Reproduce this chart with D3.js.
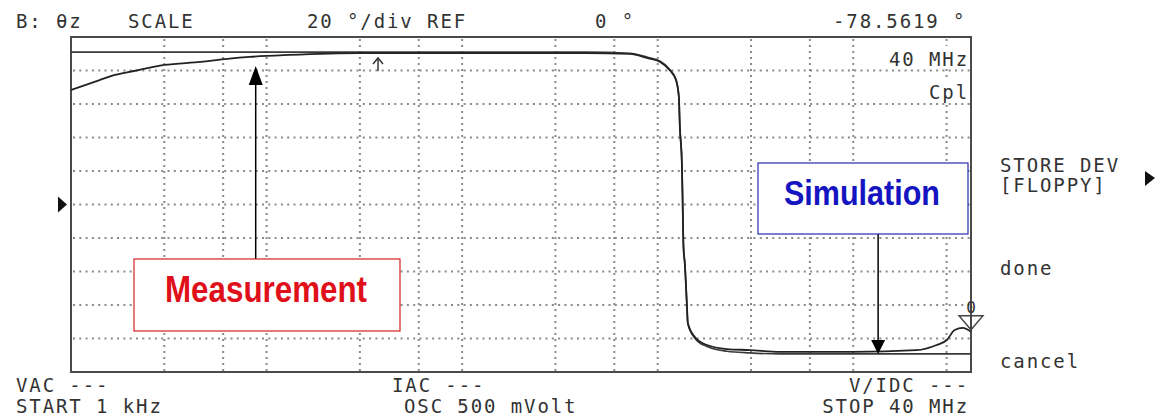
<!DOCTYPE html>
<html><head><meta charset="utf-8">
<script src="https://cdn.jsdelivr.net/npm/d3@7"></script>
<style>
html,body{margin:0;padding:0;background:#fff;}
svg{display:block;}
.lcd{font-family:"DejaVu Sans Mono",monospace;font-size:19px;fill:#333;letter-spacing:1.9px;}
</style></head>
<body>
<svg id="chart" width="1160" height="418"></svg>
<script>
// ---- data ----
const gridFreqs = [3e3, 6e3, 1e4, 3e4, 6e4, 1e5, 3e5, 6e5, 1e6, 3e6, 6e6, 1e7, 3e7];
const gridDegs = [-80, -60, -40, -20, 0, 20, 40, 60, 80];

const measFreq = [1e3, 1.4e3, 1.6e3, 2.1e3, 3e3, 4.6e3, 6.3e3, 8.2e3, 13e3, 30e3, 100e3, 430e3, 720e3, 880e3,
  1.03e6, 1.15e6, 1.24e6, 1.283e6, 1.298e6, 1.329e6, 1.34e6, 1.355e6, 1.376e6, 1.409e6, 1.426e6, 1.549e6,
  1.785e6, 2.26e6, 2.96e6, 4.2e6, 10e6, 21e6, 26.7e6, 30.1e6, 33e6, 36.3e6, 40e6];
const measPhase = [68.4, 74.3, 76.7, 79.7, 83.3, 85.1, 86.9, 88.1, 89.3, 90.4, 90.4, 90.4, 89.9, 87.5,
  85.1, 80.3, 74.3, 64.2, 46.3, 24.8, 4.5, -25.4, -34.9, -58.8, -70.7, -79.1,
  -83.9, -86.3, -86.9, -88.0, -88.0, -87.0, -83.9, -80.9, -74.9, -73.7, -76.0];

const simFreq = [1e3, 430e3, 720e3, 880e3, 1.03e6, 1.15e6, 1.24e6, 1.283e6, 1.298e6, 1.329e6, 1.34e6,
  1.355e6, 1.376e6, 1.409e6, 1.426e6, 1.549e6, 1.785e6, 2.26e6, 2.96e6, 4.2e6, 10e6, 40e6];
const simPhase = [91.0, 91.0, 90.3, 88.0, 85.5, 80.8, 74.8, 64.5, 46.5, 25.0, 4.5,
  -25.6, -35.2, -59.2, -71.2, -79.8, -84.8, -87.6, -88.6, -89.2, -89.2, -89.2];

const headerTexts = ["B: θz", "SCALE", "20 °/div REF", "0 °", "-78.5619 °"];
const footerLeft = ["VAC ---", "START 1 kHz"];
const footerMid = ["IAC ---", "OSC 500 mVolt"];
const footerRight = ["V/IDC ---", "STOP 40 MHz"];
const menuTexts = ["STORE DEV", "[FLOPPY]", "done", "cancel"];
const markerFreqLabel = "40 MHz";
const paramLabel = "Cpl";
const annMeas = {label: "Measurement", freq: 8.8e3};
const annSim = {label: "Simulation", freq: 13.4e6};

// ---- layout ----
const svg = d3.select("#chart");
const L = 71, R = 971, T = 37, B = 372;
const x = d3.scaleLog().domain([1e3, 40e6]).range([L, R]);
const y = d3.scaleLinear().domain([-100, 100]).range([B, T]);

// grid
const g = svg.append("g");
g.selectAll(".vg").data(gridFreqs).join("line")
  .attr("x1", d => x(d)).attr("x2", d => x(d)).attr("y1", T + 2).attr("y2", B)
  .attr("stroke", "#8a8a8a").attr("stroke-width", 2).attr("stroke-dasharray", "2,4");
g.selectAll(".hg").data(gridDegs).join("line")
  .attr("x1", L + 2).attr("x2", R).attr("y1", d => y(d)).attr("y2", d => y(d))
  .attr("stroke", "#8a8a8a").attr("stroke-width", 2).attr("stroke-dasharray", "2,4.3");

// label backgrounds inside plot
const lab = svg.append("g");
lab.append("rect").attr("x", 884).attr("y", 46).attr("width", 86).attr("height", 22).attr("fill", "#fff");
lab.append("rect").attr("x", 926).attr("y", 80).attr("width", 44).attr("height", 22).attr("fill", "#fff");
lab.append("text").attr("class", "lcd").attr("x", 969).attr("y", 66).attr("text-anchor", "end").text(markerFreqLabel);
lab.append("text").attr("class", "lcd").attr("x", 969).attr("y", 99).attr("text-anchor", "end").text(paramLabel);

// frame
svg.append("rect").attr("x", L).attr("y", T).attr("width", R - L).attr("height", B - T)
  .attr("fill", "none").attr("stroke", "#4a4a4a").attr("stroke-width", 2);

// curves
const line = d3.line().x(d => x(d[0])).y(d => y(d[1])).curve(d3.curveMonotoneX);
svg.append("path").datum(simFreq.map((f, i) => [f, simPhase[i]]))
  .attr("d", line).attr("fill", "none").attr("stroke", "#3a3a3a").attr("stroke-width", 1.6);
svg.append("path").datum(measFreq.map((f, i) => [f, measPhase[i]]))
  .attr("d", line).attr("fill", "none").attr("stroke", "#222").attr("stroke-width", 1.8);

// small up arrow marker near top
const ax = 378;
svg.append("line").attr("x1", ax).attr("x2", ax).attr("y1", 71).attr("y2", 59).attr("stroke", "#333").attr("stroke-width", 1.5);
svg.append("path").attr("d", `M${ax - 5},${64} L${ax},${58} L${ax + 5},${64}`).attr("fill", "none").attr("stroke", "#333").attr("stroke-width", 1.5);

// reference marker at left (0 deg)
svg.append("path").attr("d", `M58,${y(0) - 8} L67,${y(0)} L58,${y(0) + 8} Z`).attr("fill", "#111");

// marker at end of sweep
const mx = x(40e6), my = y(measPhase[measPhase.length - 1]);
svg.append("path").attr("d", `M${mx - 12},${my - 16} L${mx + 12},${my - 16} L${mx},${my - 2} Z`)
  .attr("fill", "none").attr("stroke", "#444").attr("stroke-width", 1.4);
svg.append("line").attr("x1", mx).attr("x2", mx).attr("y1", my - 16).attr("y2", my)
  .attr("stroke", "#444").attr("stroke-width", 1.4);
svg.append("text").attr("class", "lcd").attr("x", mx).attr("y", my - 19).attr("text-anchor", "middle")
  .style("font-size", "16px").style("letter-spacing", "0px").text("0");

// header
const hx = [16, 128, 307, 595, 833];
svg.selectAll(".hdr").data(headerTexts).join("text").attr("class", "lcd")
  .attr("x", (d, i) => hx[i]).attr("y", 28).text(d => d);

// footer
svg.selectAll(".fl").data(footerLeft).join("text").attr("class", "lcd")
  .attr("x", 16).attr("y", (d, i) => i === 0 ? 392 : 413).text(d => d);
svg.selectAll(".fm").data(footerMid).join("text").attr("class", "lcd")
  .attr("x", (d, i) => i === 0 ? 392 : 404).attr("y", (d, i) => i === 0 ? 392 : 413).text(d => d);
svg.selectAll(".fr").data(footerRight).join("text").attr("class", "lcd")
  .attr("x", 969).attr("text-anchor", "end").attr("y", (d, i) => i === 0 ? 392 : 413).text(d => d);

// right menu
const my0 = [172, 192, 275, 368];
svg.selectAll(".menu").data(menuTexts).join("text").attr("class", "lcd")
  .attr("x", 1000).attr("y", (d, i) => my0[i]).text(d => d);
svg.append("path").attr("d", "M1145,171 L1155,178 L1145,186 Z").attr("fill", "#111");

// annotations
function arrowHead(xp, yp, dir) { // dir: -1 pointing up, 1 pointing down
  const h = dir < 0 ? 19 : 14, w = 7;
  return `M${xp},${yp} L${xp - w},${yp - dir * h} L${xp + w},${yp - dir * h} Z`;
}
// measurement
const mxA = x(annMeas.freq);
svg.append("line").attr("x1", mxA).attr("x2", mxA).attr("y1", 259).attr("y2", 80).attr("stroke", "#000").attr("stroke-width", 1.5);
svg.append("path").attr("d", arrowHead(mxA, 66, -1)).attr("fill", "#000");
svg.append("rect").attr("x", 134).attr("y", 259).attr("width", 266).attr("height", 72)
  .attr("fill", "#fff").attr("stroke", "#d42020").attr("stroke-width", 1.2);
svg.append("text").attr("x", 165).attr("y", 302).attr("textLength", 202).attr("lengthAdjust", "spacingAndGlyphs")
  .style("font-family", "'Liberation Sans', Arial, sans-serif").style("font-weight", "bold").style("font-size", "36px")
  .attr("fill", "#e0101a").text(annMeas.label);
// simulation
const sxA = x(annSim.freq);
svg.append("line").attr("x1", sxA).attr("x2", sxA).attr("y1", 234).attr("y2", 342).attr("stroke", "#000").attr("stroke-width", 1.5);
svg.append("path").attr("d", arrowHead(sxA, y(-89.2), 1)).attr("fill", "#000");
svg.append("rect").attr("x", 758).attr("y", 163).attr("width", 210).attr("height", 71)
  .attr("fill", "#fff").attr("stroke", "#2a2ab0").attr("stroke-width", 1.2);
svg.append("text").attr("x", 784).attr("y", 205).attr("textLength", 156).attr("lengthAdjust", "spacingAndGlyphs")
  .style("font-family", "'Liberation Sans', Arial, sans-serif").style("font-weight", "bold").style("font-size", "35px")
  .attr("fill", "#1414c0").text(annSim.label);
</script>
</body></html>
